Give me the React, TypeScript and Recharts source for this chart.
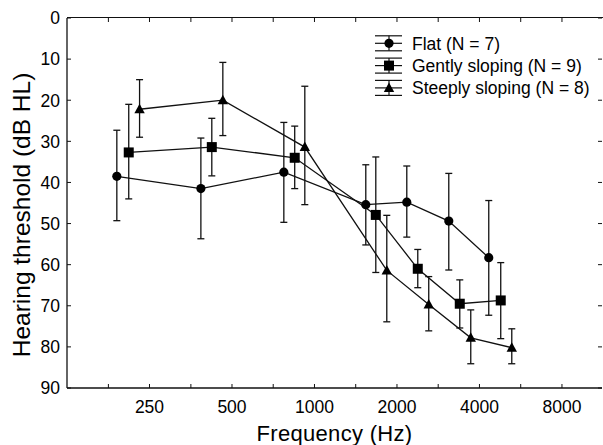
import React from 'react';
import { ComposedChart, Line, XAxis, YAxis, ErrorBar, Legend } from 'recharts';

// frequencies (Hz) as plotted, means and error-bar limits (dB HL)
const flatFreq = [190, 385, 773, 1539, 2172, 3091, 4325];
const flatMean = [38.5, 41.5, 37.5, 45.4, 44.8, 49.4, 58.3];
const flatLow = [27.3, 29.2, 25.4, 35.7, 36.0, 37.8, 44.4];
const flatHigh = [49.3, 53.7, 49.7, 55.2, 53.3, 61.3, 72.3];

const gentleFreq = [210, 422, 847, 1674, 2382, 3390, 4783];
const gentleMean = [32.7, 31.4, 34.0, 47.9, 61.0, 69.5, 68.7];
const gentleLow = [21.0, 24.4, 26.3, 33.8, 56.3, 63.7, 59.5];
const gentleHigh = [44.0, 38.4, 41.5, 61.9, 65.6, 75.4, 78.0];

const steepFreq = [230, 463, 922, 1836, 2612, 3718, 5248];
const steepMean = [22.2, 20.0, 31.4, 61.4, 69.7, 77.8, 80.2];
const steepLow = [15.0, 10.8, 16.6, 48.0, 62.9, 71.0, 75.6];
const steepHigh = [29.0, 28.6, 45.4, 73.9, 76.1, 84.1, 84.1];

const xTicks = [177, 250, 354, 500, 707, 1000, 1414, 2000, 2828, 4000, 5657, 8000];
const xLabels = [250, 500, 1000, 2000, 4000, 8000];
const xDomain = [125, 11200];
const yTicks = [0, 10, 20, 30, 40, 50, 60, 70, 80, 90];
const legendNames = ['Flat (N = 7)', 'Gently sloping (N = 9)', 'Steeply sloping (N = 8)'];

const build = (f: number[], m: number[], lo: number[], hi: number[]) =>
  f.map((v, i) => ({ f: v, y: m[i], err: [m[i] - lo[i], hi[i] - m[i]] }));

const flatData = build(flatFreq, flatMean, flatLow, flatHigh);
const gentleData = build(gentleFreq, gentleMean, gentleLow, gentleHigh);
const steepData = build(steepFreq, steepMean, steepLow, steepHigh);

const FONT = '"Liberation Sans", Arial, sans-serif';
const INK = '#111';

// chart box
const W = 603;
const H = 445;
const M = { top: 18, right: 0, bottom: 0, left: 0 };
const Y_AXIS_W = 67;
const RIGHT_W = 1;
const X_AXIS_H = 57;
const PLOT_W = W - M.left - Y_AXIS_W - RIGHT_W - M.right;
const PLOT_H = H - M.top - X_AXIS_H - M.bottom;

const CircleDot = (p: any) => <circle key={`c${p.index}`} cx={p.cx} cy={p.cy} r={4.6} fill="#000" />;
const SquareDot = (p: any) => (
  <rect key={`s${p.index}`} x={p.cx - 5} y={p.cy - 5} width={10} height={10} fill="#000" />
);
const TriangleDot = (p: any) => (
  <path
    key={`t${p.index}`}
    d={`M${p.cx},${p.cy - 5.5} L${p.cx + 5.2},${p.cy + 4} L${p.cx - 5.2},${p.cy + 4} Z`}
    fill="#000"
  />
);

// bottom ticks also mark the top frame (inward ticks on both sides)
const BottomTick = ({ x, y, payload }: any) => (
  <g>
    <line x1={x} x2={x} y1={y} y2={y - 4} stroke={INK} />
    <line x1={x} x2={x} y1={y - PLOT_H} y2={y - PLOT_H + 4} stroke={INK} />
    {xLabels.includes(payload.value) && (
      <text x={x} y={y + 25} textAnchor="middle" fontSize={17.5} fontFamily={FONT} fill="#000">
        {payload.value}
      </text>
    )}
  </g>
);

const LeftTick = ({ x, y, payload }: any) => (
  <g>
    <line x1={x} x2={x + 4} y1={y} y2={y} stroke={INK} />
    <text x={x - 7} y={y + 6.3} textAnchor="end" fontSize={17.5} fontFamily={FONT} fill="#000">
      {payload.value}
    </text>
  </g>
);

const RightTick = ({ x, y }: any) => <line x1={x} x2={x - 4} y1={y} y2={y} stroke={INK} />;

const markers = [
  (cx: number, cy: number) => <circle cx={cx} cy={cy} r={4.6} fill="#000" />,
  (cx: number, cy: number) => <rect x={cx - 5} y={cy - 5} width={10} height={10} fill="#000" />,
  (cx: number, cy: number) => (
    <path d={`M${cx},${cy - 5.5} L${cx + 5.2},${cy + 4} L${cx - 5.2},${cy + 4} Z`} fill="#000" />
  ),
];

const renderLegend = () => (
  <svg width={232} height={72}>
    {legendNames.map((name, i) => {
      const cy = 11.3 + i * 22.3;
      return (
        <g key={name}>
          <line x1={3} x2={30} y1={cy - 7.5} y2={cy - 7.5} stroke={INK} strokeWidth={1.2} />
          <line x1={3} x2={30} y1={cy} y2={cy} stroke={INK} strokeWidth={1.2} />
          <line x1={3} x2={30} y1={cy + 7.5} y2={cy + 7.5} stroke={INK} strokeWidth={1.2} />
          <line x1={17} x2={17} y1={cy - 7.5} y2={cy + 7.5} stroke={INK} strokeWidth={1.2} />
          {markers[i](17, cy)}
          <text x={40} y={cy + 6.3} fontSize={17.5} fontFamily={FONT} fill="#000">
            {name}
          </text>
        </g>
      );
    })}
  </svg>
);

const YTitle = ({ viewBox }: any) => (
  <text
    x={30}
    y={viewBox.y + viewBox.height / 2 + 12}
    transform={`rotate(-90, 30, ${viewBox.y + viewBox.height / 2 + 12})`}
    textAnchor="middle"
    fontSize={24.5}
    fontFamily={FONT}
    fill="#000"
  >
    Hearing threshold (dB HL)
  </text>
);

const XTitle = ({ viewBox }: any) => (
  <text
    x={viewBox.x + viewBox.width / 2}
    y={viewBox.y + 53}
    textAnchor="middle"
    fontSize={22}
    letterSpacing={0.3}
    fontFamily={FONT}
    fill="#000"
  >
    Frequency (Hz)
  </text>
);

export default function App() {
  return (
    <div style={{ position: 'absolute', left: 0, top: 0, width: W, height: H, background: '#fff' }}>
      <ComposedChart width={W} height={H} margin={M}>
        <XAxis
          xAxisId="b"
          dataKey="f"
          type="number"
          scale="log"
          domain={xDomain}
          allowDataOverflow
          ticks={xTicks}
          interval={0}
          height={X_AXIS_H}
          tickSize={0}
          tickMargin={0}
          tickLine={false}
          axisLine={{ stroke: INK, strokeWidth: 1.3 }}
          tick={<BottomTick />}
          label={<XTitle />}
        />
        <YAxis
          yAxisId="l"
          type="number"
          reversed
          domain={[0, 90]}
          allowDataOverflow
          ticks={yTicks}
          interval={0}
          width={Y_AXIS_W}
          tickSize={0}
          tickMargin={0}
          tickLine={false}
          axisLine={{ stroke: INK, strokeWidth: 1.3 }}
          tick={<LeftTick />}
          label={<YTitle />}
        />
        <YAxis
          yAxisId="r"
          orientation="right"
          type="number"
          reversed
          domain={[0, 90]}
          allowDataOverflow
          ticks={yTicks}
          interval={0}
          width={RIGHT_W}
          tickSize={0}
          tickMargin={0}
          tickLine={false}
          axisLine={false}
          tick={<RightTick />}
        />
        <Legend
          layout="vertical"
          align="center"
          verticalAlign="middle"
          content={renderLegend}
          wrapperStyle={{ left: 372, top: 32, width: 232, height: 72 }}
        />
        <Line
          xAxisId="b"
          yAxisId="l"
          data={flatData}
          dataKey="y"
          name="Flat (N = 7)"
          stroke={INK}
          strokeWidth={1.3}
          dot={CircleDot}
          activeDot={false}
          isAnimationActive={false}
        >
          <ErrorBar dataKey="err" direction="y" width={3.5} stroke={INK} strokeWidth={1.3} />
        </Line>
        <Line
          xAxisId="b"
          yAxisId="l"
          data={gentleData}
          dataKey="y"
          name="Gently sloping (N = 9)"
          stroke={INK}
          strokeWidth={1.3}
          dot={SquareDot}
          activeDot={false}
          isAnimationActive={false}
        >
          <ErrorBar dataKey="err" direction="y" width={3.5} stroke={INK} strokeWidth={1.3} />
        </Line>
        <Line
          xAxisId="b"
          yAxisId="l"
          data={steepData}
          dataKey="y"
          name="Steeply sloping (N = 8)"
          stroke={INK}
          strokeWidth={1.3}
          dot={TriangleDot}
          activeDot={false}
          isAnimationActive={false}
        >
          <ErrorBar dataKey="err" direction="y" width={3.5} stroke={INK} strokeWidth={1.3} />
        </Line>
      </ComposedChart>
      {/* top frame line of the plot box */}
      <div
        style={{
          position: 'absolute',
          left: M.left + Y_AXIS_W,
          top: M.top - 1,
          width: PLOT_W + RIGHT_W,
          height: 0,
          borderTop: `1.3px solid ${INK}`,
          zIndex: 5,
          pointerEvents: 'none',
        }}
      />
    </div>
  );
}
